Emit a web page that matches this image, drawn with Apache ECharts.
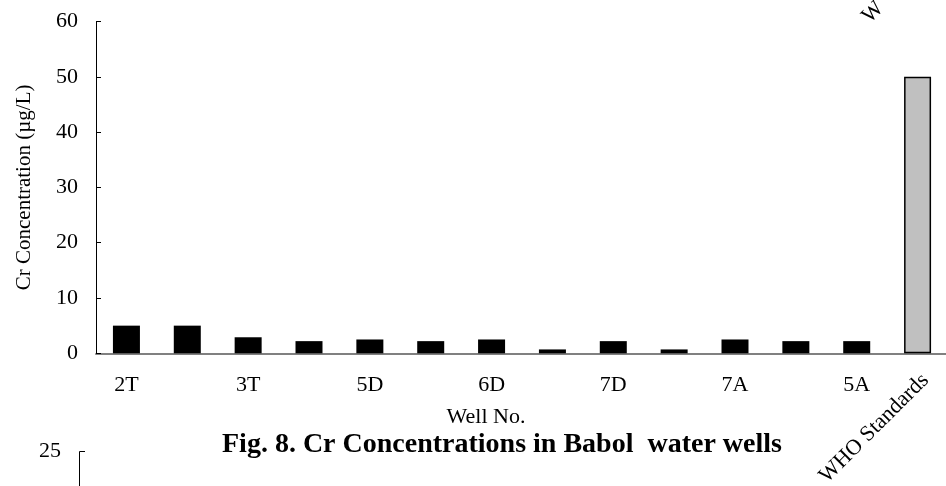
<!DOCTYPE html>
<html>
<head>
<meta charset="utf-8">
<script src="https://cdn.jsdelivr.net/npm/echarts@6/dist/echarts.min.js"></script>
<style>
  html, body { margin: 0; padding: 0; background: #fff; }
  #chart { width: 946px; height: 486px; }
</style>
</head>
<body>
<div id="chart"></div>
<script>
// wells along the x axis (only every other one is labelled in the figure)
var categories = ['2T', '', '3T', '', '5D', '', '6D', '', '7D', '', '7A', '', '5A', 'WHO Standards']
var crValues = [5, 5, 2.9, 2.2, 2.5, 2.2, 2.5, 0.7, 2.2, 0.7, 2.5, 2.2, 2.2, 50]
var yTicks = [0, 10, 20, 30, 40, 50, 60]

var serif = 'Liberation Serif'
var last = categories.length - 1

var chart = echarts.init(document.getElementById('chart'))

var barData = crValues.map(function (v, i) {
  if (i === last) {
    return { value: v, itemStyle: { color: '#c0c0c0', borderColor: '#000', borderWidth: 1.5 } }
  }
  return { value: v, itemStyle: { color: '#000' } }
})

var option = {
  animation: false,
  backgroundColor: '#fff',
  title: {
    text: 'Fig. 8. Cr Concentrations in Babol  water wells',
    left: 217,
    top: 426,
    textStyle: { fontFamily: serif, fontWeight: 'bold', fontSize: 28, color: '#000' }
  },
  grid: { left: 96, top: 21.5, width: 852, height: 331.8, containLabel: false, outerBoundsMode: 'none' },
  xAxis: [{
    type: 'category',
    data: categories,
    name: 'Well No.',
    nameLocation: 'middle',
    nameGap: 53,
    nameTextStyle: { fontFamily: serif, fontSize: 22, color: '#000', padding: [0, 72, 0, 0] },
    axisLine: { lineStyle: { color: '#808080', width: 2 } },
    axisTick: { inside: true, length: 5, lineStyle: { color: '#000', width: 1 } },
    axisLabel: {
      interval: 0,
      margin: 21,
      fontFamily: serif,
      fontSize: 22,
      color: '#000',
      formatter: function (v, i) { return i === last ? '' : v }
    },
    splitLine: { show: false }
  }, {
    type: 'category',
    data: categories,
    position: 'bottom',
    gridIndex: 0,
    axisLine: { show: false },
    axisTick: { show: false },
    axisLabel: {
      interval: 0,
      rotate: 45,
      margin: 16,
      verticalAlign: 'top',
      fontFamily: serif,
      fontSize: 22,
      color: '#000',
      formatter: function (v, i) { return i === last ? v : '' }
    },
    splitLine: { show: false }
  }],
  yAxis: {
    type: 'value',
    min: yTicks[0],
    max: yTicks[yTicks.length - 1],
    interval: 10,
    name: 'Cr Concentration (µg/L)',
    nameLocation: 'middle',
    nameGap: 61,
    nameTextStyle: { fontFamily: serif, fontSize: 21, color: '#000' },
    axisLine: { show: true, lineStyle: { color: '#000', width: 1 } },
    axisTick: { show: true, inside: true, length: 5, lineStyle: { color: '#000' } },
    axisLabel: { margin: 18, fontFamily: serif, fontSize: 22, color: '#000' },
    splitLine: { show: false }
  },
  series: [{
    name: 'Cr',
    type: 'bar',
    xAxisIndex: 0,
    barWidth: 27,
    data: barData
  }],
  // bits of the neighbouring figures that show at the edges of the crop
  graphic: [{
    type: 'text',
    left: 39,
    top: 440,
    style: { text: '25', font: '22px "Liberation Serif"', fill: '#000' }
  }, {
    type: 'polyline',
    shape: { points: [[85, 451.5], [79.5, 451.5], [79.5, 490]] },
    style: { stroke: '#000', lineWidth: 1, fill: null }
  }, {
    type: 'text',
    x: 858,
    y: 12,
    rotation: Math.PI / 4,
    style: { text: 'W', font: '22px "Liberation Serif"', fill: '#000' }
  }]
}

chart.setOption(option)
</script>
</body>
</html>
